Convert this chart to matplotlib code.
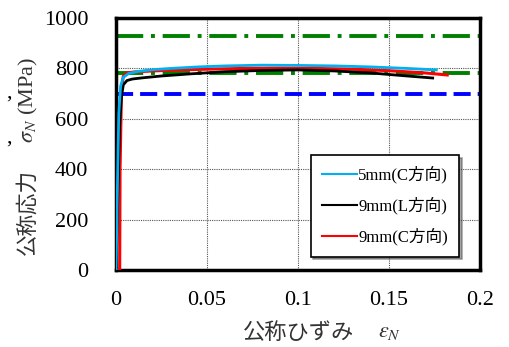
"""
Nominal stress-strain curves for 5 mm and 9 mm plate specimens
"""

import matplotlib

matplotlib.use("Agg")
import matplotlib.pyplot as plt

plt.rcParams["font.family"] = ["Liberation Serif", "Noto Sans CJK JP"]
plt.rcParams["mathtext.fontset"] = "stix"

# 5mm (C direction)
strain_5c = [0.0, 0.0008, 0.0015, 0.0025, 0.004, 0.007, 0.012, 0.02, 0.03, 0.045,
             0.06, 0.08, 0.10, 0.12, 0.14, 0.16, 0.176]
stress_5c = [0, 350, 620, 730, 765, 780, 788, 795, 800, 806,
             810, 813, 812, 810, 806, 800, 794]

# 9mm (L direction)
strain_9l = [0.0, 0.001, 0.002, 0.003, 0.004, 0.006, 0.009, 0.015, 0.025, 0.04,
             0.06, 0.08, 0.10, 0.12, 0.14, 0.16, 0.174]
stress_9l = [0, 300, 580, 690, 735, 752, 758, 763, 770, 778,
             787, 792, 794, 790, 782, 770, 762]

# 9mm (C direction)
strain_9c = [0.0, 0.002, 0.0022, 0.003, 0.004, 0.006, 0.01, 0.02, 0.03, 0.05,
             0.07, 0.09, 0.11, 0.13, 0.15, 0.17, 0.182]
stress_9c = [0, 0, 400, 720, 770, 782, 786, 790, 793, 797,
             800, 801, 800, 797, 791, 782, 774]

# reference stress levels (MPa)
ref_dashdot = [930, 780]
ref_dashed = 700

xticks = [0, 0.05, 0.1, 0.15, 0.2]
xtick_labels = ["0", "0.05", "0.1", "0.15", "0.2"]
yticks = [0, 200, 400, 600, 800, 1000]

fig = plt.figure(figsize=(5.09, 3.47), dpi=100)
ax = fig.add_axes([0.228, 0.222, 0.715, 0.726])

for level in ref_dashdot:
    ax.axhline(level, color="#008000", lw=2.8, dashes=(7, 2, 1, 2), zorder=2)
ax.axhline(ref_dashed, color="#0000FF", lw=2.8, dashes=(4.4, 1.8), zorder=2)

ax.plot(strain_9c, stress_9c, color="#FF0000", lw=2.2, label="9mm(C方向)", zorder=3)
ax.plot(strain_9l, stress_9l, color="black", lw=2.0, label="9mm(L方向)", zorder=3)
ax.plot(strain_5c, stress_5c, color="#00B0F0", lw=2.0, label="5mm(C方向)", zorder=4)

ax.set_xlim(0, 0.2)
ax.set_ylim(0, 1000)
ax.set_xticks(xticks)
ax.set_xticklabels(xtick_labels)
ax.set_yticks(yticks)
ax.tick_params(axis="both", length=0, labelsize=16)
ax.tick_params(axis="x", pad=15)
ax.tick_params(axis="y", pad=20)
ax.grid(True, color="#555555", ls=(0, (1, 1)), lw=0.8)
for sp in ax.spines.values():
    sp.set_linewidth(2.5)

# axis titles: Japanese text and math symbols drawn as separate pieces
label_color = "#333333"
fig.text(0.055, 0.389, "公称応力", rotation=90, ha="center", va="center",
         fontsize=15.5, color=label_color, family="Noto Sans CJK JP")
fig.text(0.055, 0.712, r"$\sigma_N$ (MPa)", rotation=90, ha="center", va="center",
         fontsize=16, color=label_color)
fig.text(0.586, 0.043, "公称ひずみ", ha="center", va="center",
         fontsize=16, color=label_color, family="Noto Sans CJK JP")
fig.text(0.742, 0.043, r"$\varepsilon_N$", ha="left", va="center",
         fontsize=16, color=label_color)
fig.text(0.012, 0.72, ",", fontsize=16)
fig.text(0.012, 0.59, ",", fontsize=16)

handles, labels = ax.get_legend_handles_labels()
leg = ax.legend(handles[::-1], labels[::-1], loc="lower right",
                bbox_to_anchor=(0.965, 0.02), fontsize=12, frameon=True,
                fancybox=False, shadow=True, edgecolor="black",
                handlelength=2.1, handletextpad=0.1, labelspacing=0.8,
                borderpad=0.65)
leg.get_frame().set_linewidth(1.2)
for line in leg.get_lines():
    line.set_linewidth(1.5)

plt.savefig("out.png", dpi=100)
plt.close(fig)
